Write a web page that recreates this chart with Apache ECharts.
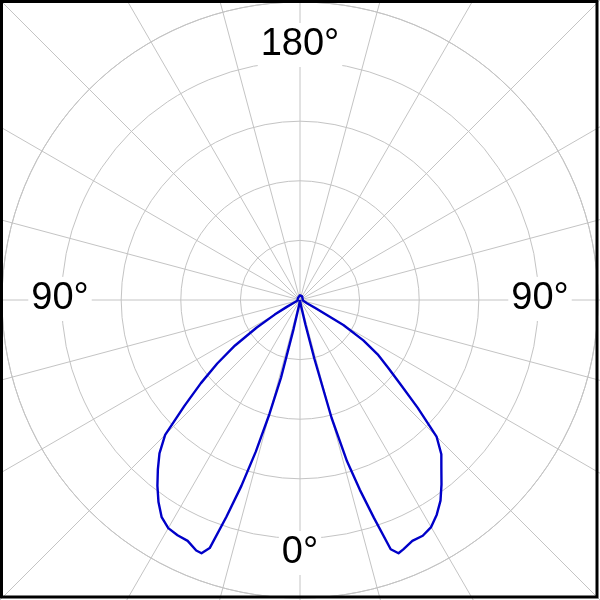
<!DOCTYPE html>
<html>
<head>
<meta charset="utf-8">
<script src="https://cdn.jsdelivr.net/npm/echarts@6/dist/echarts.min.js"></script>
<style>
html,body{margin:0;padding:0;background:#fff;}
#chart{width:600px;height:600px;}
</style>
</head>
<body>
<div id="chart"></div>
<script>
// Gamma angles (degrees from nadir) and intensities (ring = 100 units)
const gammaAngles = [0,2.5,5,7.5,10,12.5,13.75,15,16.25,17.5,18.75,20,21.25,22.5,25,27.5,30,32.5,35,37.5,40,42.5,45,47.5,50,52.5,55,57.5,60,62.5,65,67.5,70,75,80,85,90,105,120,135,150,165,180];
const leftValues  = [0,0,0,3,10,50,134,198,265,327,384,443,456,455,446,445,442,432,414,393,371,349,320,263,217,175,133,86,49,25,13,8,7,5,5,4,4,5,5,5,7,7,8];
const rightValues = [0,0,0,3,10,42,101,205,282,334,386,445,456,453,446,446,440,427,411,390,369,351,324,268,220,186,159,126,84,29,13,8,7,5,5,4,4,5,5,5,7,7,8];
const radiusMax = 500;
const radiusStep = 100;
const angleLabels = [
  {text:'180°', x:300, y:45},
  {text:'0°',   x:300, y:553},
  {text:'90°',  x:60,  y:299},
  {text:'90°',  x:540, y:299}
];

const gridColor = '#c4c4c4';
const data = [];
for (let i = 0; i < gammaAngles.length; i++) data.push([leftValues[i], gammaAngles[i]]);
for (let i = gammaAngles.length - 1; i >= 0; i--) data.push([rightValues[i], 360 - gammaAngles[i]]);

const chart = echarts.init(document.getElementById('chart'), null, {renderer:'canvas'});
chart.setOption({
  animation:false,
  backgroundColor:'#ffffff',
  polar:[
    {center:[300,300], radius:298},
    {center:[300,300], radius:[298,430]}
  ],
  angleAxis:[
    {polarIndex:0, type:'value', min:0, max:360, interval:15, startAngle:-90, clockwise:true,
     axisLine:{show:true, lineStyle:{color:gridColor, width:1}},
     axisTick:{show:false}, axisLabel:{show:false},
     splitLine:{show:true, lineStyle:{color:gridColor, width:1}}},
    {polarIndex:1, type:'value', min:0, max:360, interval:15, startAngle:-90, clockwise:true,
     axisLine:{show:false}, axisTick:{show:false}, axisLabel:{show:false},
     splitLine:{show:true, lineStyle:{color:gridColor, width:1}}}
  ],
  radiusAxis:[
    {polarIndex:0, type:'value', min:0, max:radiusMax, interval:radiusStep,
     axisLine:{show:false}, axisTick:{show:false}, axisLabel:{show:false},
     splitLine:{show:true, lineStyle:{color:gridColor, width:1}}},
    {polarIndex:1, type:'value', min:0, max:1,
     axisLine:{show:false}, axisTick:{show:false}, axisLabel:{show:false},
     splitLine:{show:false}}
  ],
  series:[{
    type:'line', coordinateSystem:'polar', polarIndex:0,
    data:data, showSymbol:false, symbol:'none', smooth:false,
    lineStyle:{color:'#0000c8', width:2.4, join:'round'}, z:5
  }],
  graphic:[
    {type:'rect', z:200, shape:{x:1.5,y:1.5,width:595.5,height:595.5},
     style:{fill:null, stroke:'#000', lineWidth:3}}
  ].concat(angleLabels.map(l => ({
    type:'text', z:100, x:l.x, y:l.y,
    style:{text:l.text, fill:'#000', font:'38px "Liberation Sans", Arial, sans-serif',
      align:'center', verticalAlign:'middle', backgroundColor:'#ffffff', padding:[3,3,3,3]}
  })))
});
</script>
</body>
</html>
